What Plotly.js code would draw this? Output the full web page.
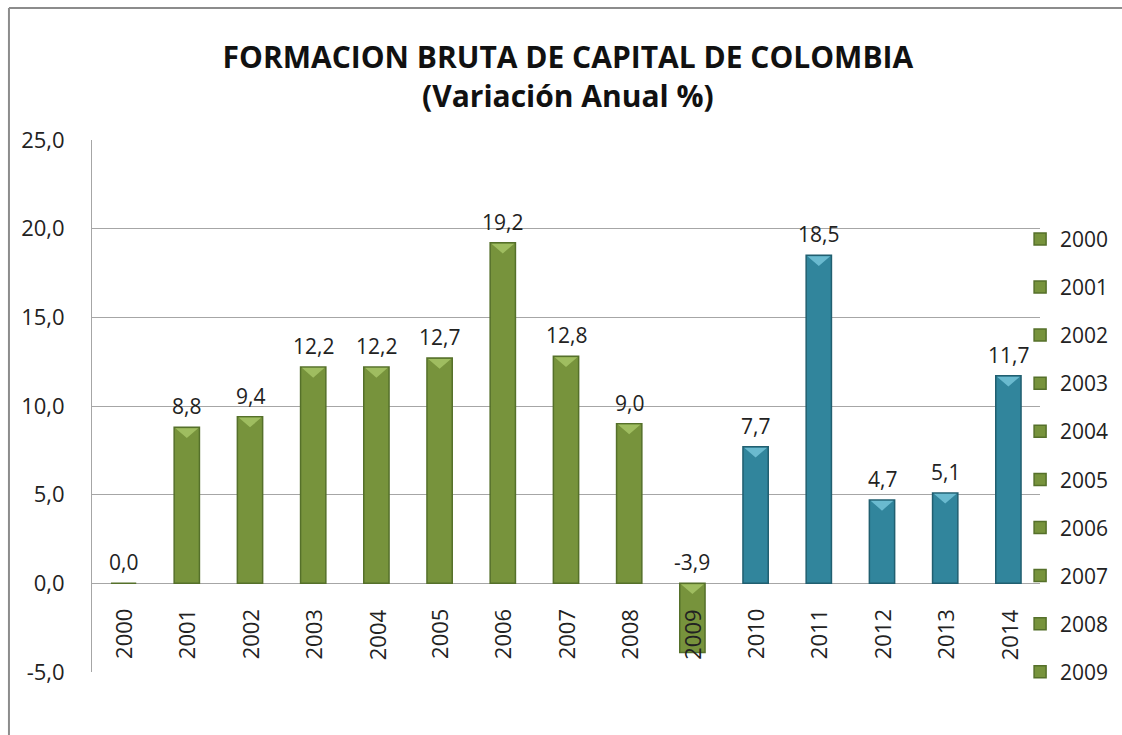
<!DOCTYPE html>
<html>
<head>
<meta charset="utf-8">
<script src="https://cdn.plot.ly/plotly-3.0.1.min.js"></script>
<style>html,body{margin:0;padding:0;background:#fff;}#chart{width:1122px;height:735px;}</style>
</head>
<body>
<div id="chart"></div>
<script>
var years = ['2000','2001','2002','2003','2004','2005','2006','2007','2008','2009','2010','2011','2012','2013','2014'];
var values = [0.0, 8.8, 9.4, 12.2, 12.2, 12.7, 19.2, 12.8, 9.0, -3.9, 7.7, 18.5, 4.7, 5.1, 11.7];
var legendYears = ['2000','2001','2002','2003','2004','2005','2006','2007','2008','2009'];
var yTicks = [-5, 0, 5, 10, 15, 20, 25];

var FONT = '"Open Sans", "Noto Sans", sans-serif';
var green = '#77933C', greenLine = '#55702a', greenLight = '#a6c466';
var blue = '#31859C', blueLine = '#215f70', blueLight = '#74c3d8';

function fmt(v){ return v.toFixed(1).replace('.', ','); }

var traces = years.map(function(y, i){
  var isGreen = parseInt(y, 10) < 2010;
  return {
    type: 'bar',
    x: [i],
    y: [values[i]],
    width: 0.4,
    name: y,
    legendgroup: 'g' + y,
    showlegend: legendYears.indexOf(y) >= 0,
    marker: {color: isGreen ? green : blue, line: {color: isGreen ? greenLine : blueLine, width: 1.5}},
    hoverinfo: 'y'
  };
});

// light bevel triangles at the top of each bar, built from the data
function bevel(filterGreen) {
  var xs = [], ys = [];
  for (var i = 0; i < years.length; i++) {
    var isG = parseInt(years[i], 10) < 2010;
    if (isG !== filterGreen || values[i] === 0) continue;
    var top = Math.max(values[i], 0);
    xs.push(i - 0.18, i + 0.18, i, i - 0.18, null);
    ys.push(top - 0.05, top - 0.05, top - 0.6, top - 0.05, null);
  }
  return {
    type: 'scatter', mode: 'lines', x: xs, y: ys, fill: 'toself',
    fillcolor: filterGreen ? greenLight : blueLight, line: {width: 0, color: 'rgba(0,0,0,0)'},
    showlegend: false, hoverinfo: 'skip', opacity: 0.85
  };
}
traces.push(bevel(true), bevel(false));

var annotations = [];
for (var i = 0; i < years.length; i++) {
  annotations.push({
    x: i, y: Math.max(values[i], 0), xref: 'x', yref: 'y',
    text: fmt(values[i]), showarrow: false, yanchor: 'bottom', yshift: 5,
    font: {family: FONT, size: 21, color: '#222'}
  });
  annotations.push({
    x: i, y: 0, xref: 'x', yref: 'y',
    text: years[i], showarrow: false, textangle: -90, yanchor: 'top', yshift: -24,
    font: {family: FONT, size: 22, color: '#222'}
  });
}

var layout = {
  width: 1122, height: 735,
  margin: {l: 92, r: 82, t: 140, b: 63, autoexpand: false},
  paper_bgcolor: '#fff', plot_bgcolor: '#fff',
  separators: ',.',
  barmode: 'overlay',
  title: {
    text: '<b>FORMACION BRUTA DE CAPITAL DE COLOMBIA</b><br><b>(Variación Anual %)</b>',
    x: 0.502, xanchor: 'center', xref: 'paper', yref: 'container', y: 0.907, yanchor: 'middle',
    font: {family: FONT, size: 30, color: '#111'}
  },
  xaxis: {
    type: 'linear', showticklabels: false, showgrid: false, zeroline: false, showline: false,
    range: [-0.5, 14.5], fixedrange: true
  },
  yaxis: {
    range: [-5, 25], tickmode: 'array', tickvals: yTicks, ticktext: yTicks.map(fmt),
    showgrid: true, gridcolor: '#a6a6a6', gridwidth: 1,
    zeroline: true, zerolinecolor: '#a6a6a6', zerolinewidth: 1,
    showline: true, linecolor: '#a6a6a6', linewidth: 1,
    ticks: '', ticklabelstandoff: 22,
    tickfont: {family: FONT, size: 22, color: '#222'}
  },
  legend: {
    x: 0.979, xanchor: 'left', y: 0.852, yanchor: 'top',
    font: {family: FONT, size: 21, color: '#222'},
    tracegroupgap: 17.8, itemwidth: 30, bgcolor: 'rgba(0,0,0,0)',
    maxheight: 700
  },
  showlegend: true,
  annotations: annotations,
  shapes: [
    {type: 'line', xref: 'paper', yref: 'paper', x0: -0.0876, x1: 1.1, y0: 1.248, y1: 1.248, line: {color: '#8c8c8c', width: 2}},
    {type: 'line', xref: 'paper', yref: 'paper', x0: -0.0876, x1: -0.0876, y0: 1.248, y1: -0.12, line: {color: '#8c8c8c', width: 2}}
  ]
};

Plotly.newPlot('chart', traces, layout, {displayModeBar: false, staticPlot: true});
</script>
</body>
</html>
